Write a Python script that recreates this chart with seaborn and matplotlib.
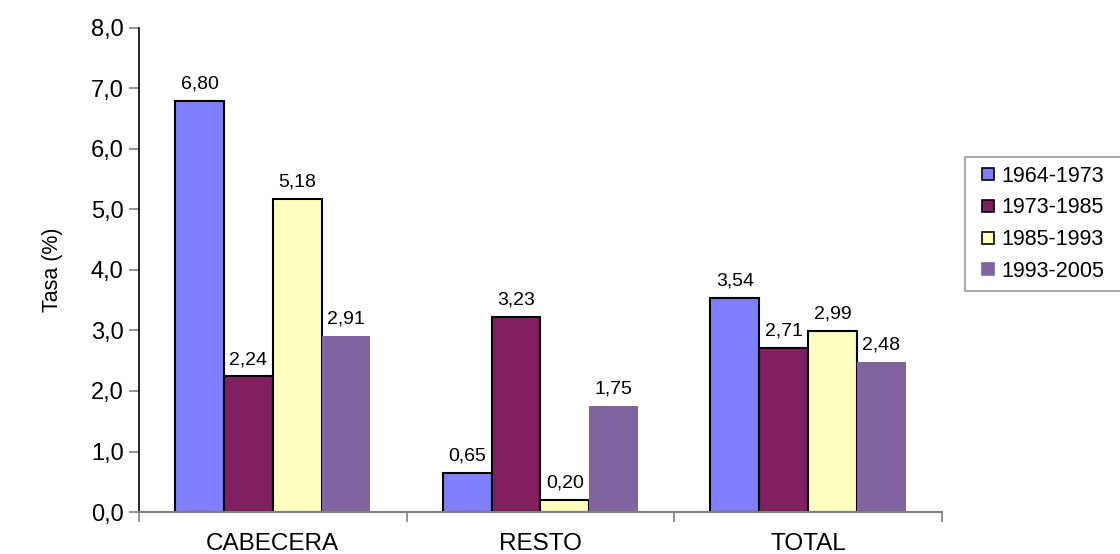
import matplotlib
matplotlib.use("Agg")
import matplotlib.pyplot as plt
import seaborn as sns
import pandas as pd
from matplotlib.lines import Line2D

categories = ["CABECERA", "RESTO", "TOTAL"]
periods = ["1964-1973", "1973-1985", "1985-1993", "1993-2005"]
v_1964_1973 = [6.80, 0.65, 3.54]
v_1973_1985 = [2.24, 3.23, 2.71]
v_1985_1993 = [5.18, 0.20, 2.99]
v_1993_2005 = [2.91, 1.75, 2.48]
y_ticks = [0, 1, 2, 3, 4, 5, 6, 7, 8]

colors = ["#8080FF", "#802060", "#FFFFC0", "#8064A0"]
edges = ["black", "black", "black", "none"]

rows = []
for p, vals in zip(periods, [v_1964_1973, v_1973_1985, v_1985_1993, v_1993_2005]):
    for c, v in zip(categories, vals):
        rows.append({"cat": c, "period": p, "val": v})
df = pd.DataFrame(rows)

sns.set_style("white")
plt.rcParams["font.family"] = ["Liberation Sans", "DejaVu Sans"]
plt.rcParams["text.color"] = "black"
plt.rcParams["axes.labelcolor"] = "black"
plt.rcParams["xtick.labelcolor"] = "black"
plt.rcParams["ytick.labelcolor"] = "black"

fig = plt.figure(figsize=(11.2, 5.54), dpi=100)
ax = fig.add_axes([0.124, 0.0758, 0.717, 0.8737])

sns.barplot(data=df, x="cat", y="val", hue="period", order=categories,
            hue_order=periods, palette=colors, saturation=1, width=0.73, gap=0,
            linewidth=1.5, edgecolor="black", ax=ax, legend=False)

for cont, ec in zip(ax.containers, edges):
    for patch in cont:
        patch.set_edgecolor(ec)
        patch.set_linewidth(1.5 if ec != "none" else 0)
    ax.bar_label(cont, labels=[f"{b.get_height():.2f}".replace(".", ",") for b in cont],
                 padding=6, fontsize=14, color="black")

ax.set_xlim(-0.5, 2.5)
ax.set_ylim(0, 8)
ax.set_yticks(y_ticks)
ax.set_yticklabels([f"{t:.1f}".replace(".", ",") for t in y_ticks], fontsize=17)
ax.set_xticks([0, 1, 2])
ax.set_xticklabels(categories, fontsize=17.5)
ax.set_xticks([-0.5, 0.5, 1.5, 2.5], minor=True)
ax.tick_params(axis="x", which="major", length=0, pad=15)
ax.tick_params(axis="x", which="minor", length=7, width=1.2, color="#808080", direction="out", bottom=True)
ax.tick_params(axis="y", which="major", length=7, width=1.2, color="#808080", direction="out", left=True, pad=4)
ax.set_xlabel("")
ax.set_ylabel("Tasa (%)", fontsize=15.5, labelpad=20)

for s in ["top", "right"]:
    ax.spines[s].set_visible(False)
ax.spines["left"].set_color("black")
ax.spines["left"].set_linewidth(1.2)
ax.spines["bottom"].set_color("#808080")
ax.spines["bottom"].set_linewidth(1.5)

handles = [Line2D([], [], linestyle="", marker="s", markersize=9,
                  markerfacecolor=c, markeredgecolor=("black" if e != "none" else c),
                  markeredgewidth=1.2)
           for c, e in zip(colors, edges)]
leg = fig.legend(handles, periods, loc="upper left",
                 bbox_to_anchor=(0.8616, 0.7166, 0.2, 0), mode="expand",
                 fontsize=15.5, frameon=True, fancybox=False, edgecolor="#808080",
                 handlelength=1.3, handletextpad=0.0,
                 labelspacing=0.5, borderpad=0.4, borderaxespad=0)
leg.get_frame().set_linewidth(1.2)

fig.savefig("out.png", dpi=100)
